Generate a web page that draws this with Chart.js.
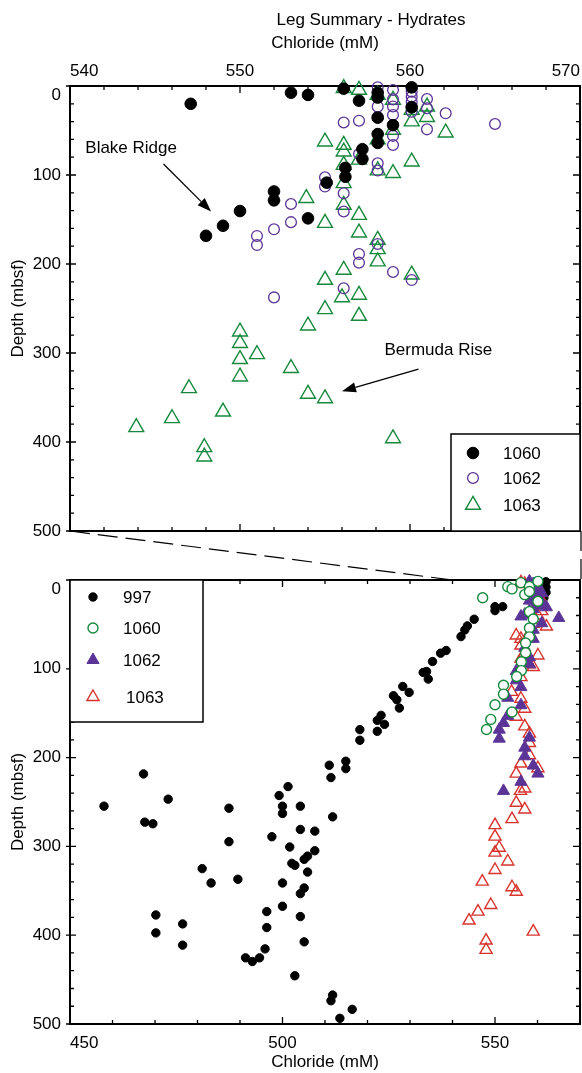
<!DOCTYPE html>
<html>
<head>
<meta charset="utf-8">
<script src="https://cdn.jsdelivr.net/npm/chart.js@4.4.1/dist/chart.umd.min.js"></script>
<style>
    html, body { margin: 0; padding: 0; background: #fff; }
    #wrap { position: relative; width: 582px; height: 1073px; }
    canvas { position: absolute; left: 0; }
    #topCv { top: 0; }
    #botCv { top: 556px; }
    #lines { top: 0; pointer-events: none; }
</style>
</head>
<body>
<div id="wrap">
    <canvas id="topCv" width="582" height="556"></canvas>
    <canvas id="botCv" width="582" height="517"></canvas>
    <canvas id="lines" width="582" height="1073"></canvas>
</div>
<script>
// [chloride mM, depth mbsf]
const site997 = [
    [458, 254.7], [467.3, 218.4], [467.6, 272.7], [469.5, 274.5], [473.1, 246.8], [470.2, 377.2],
    [470.2, 397.4], [476.5, 387.3], [476.5, 411.2], [481.1, 325], [483.2, 341.2], [487.4, 257],
    [487.4, 294.7], [489.5, 337], [491.3, 425.5], [492.9, 429.6], [494.6, 425.5], [495.9, 415.4],
    [496.3, 391.4], [496.3, 373.4], [497.5, 289.1], [499.2, 242.7], [500, 254.7], [500, 262.9],
    [501.3, 232.6], [500, 341.2], [500, 367.4], [501.7, 300.7], [502.2, 319.1], [502.9, 321.3],
    [502.9, 445.7], [504.2, 254.7], [504.2, 280.9], [505.1, 314.6], [505.9, 310.9], [505.9, 328.9],
    [505.1, 346.8], [504.2, 353.2], [504.2, 379], [505.1, 407.5], [507.6, 282.8], [507.6, 304.9],
    [511, 208.6], [511.4, 222.5], [511.8, 266.7], [514.9, 204.1], [514.9, 212.4], [511.8, 467.4],
    [511.4, 473.8], [516.4, 483.5], [513.5, 493.6], [518.2, 168.5], [518.2, 180.5], [522.3, 170.4],
    [522.3, 158.1], [523.2, 152.4], [524, 162.6], [526.1, 130.3], [526.9, 134.8], [527.5, 144.2],
    [528.3, 119.9], [529.8, 126.6], [533.1, 104.1], [533.9, 103], [534.3, 111.6], [535.3, 91.8],
    [537.2, 82.4], [538.5, 79.4], [542, 63.7], [542.9, 56.2], [543.5, 51.7], [545.1, 44.2],
    [550, 30], [551.8, 30], [550, 34.5], [562, 2], [562, 8], [562, 14], [561.5, 20], [561, 26]
];

const site1060 = [
    [547.1, 20], [553, 7.5], [554, 10], [556.1, 3], [557, 16.5], [558.1, 7.5], [558.1, 13],
    [560.1, 1.5], [560.1, 24], [558.1, 35.6], [559, 44], [558.1, 54], [558.1, 64], [557.2, 71],
    [557.2, 82], [556.2, 92], [556.2, 102], [555.1, 108.6], [552, 118.5], [552, 128.5],
    [550, 140.5], [554, 148.7], [549, 157], [548, 168.3]
];

const site1062 = [
    [558.1, 1.5], [559, 4.5], [560.1, 6.4], [560.1, 12], [560.1, 17.6], [560.1, 23.3], [560.1, 28.9],
    [561, 14.6], [561, 25], [561, 48.7], [562.1, 30.7], [565, 42.7], [559, 15], [559, 23],
    [559, 32.6], [559, 56], [559, 66.3], [558.1, 23.2], [558.1, 35], [557, 39], [556.1, 41],
    [557, 76.4], [558.1, 86.9], [558.1, 95], [555, 102.6], [555, 113], [556.1, 120.6], [556.1, 141],
    [558.1, 177.5], [557, 188.8], [557, 198.5], [559, 209], [560.1, 218], [556.1, 227.3],
    [553, 132.6], [552, 161], [551, 168.5], [551, 178.7], [553, 153], [552, 237.5]
];

const site1063 = [
    [556.1, 2.6], [557, 4.5], [558.1, 10], [559, 15.7], [560.1, 27], [561, 23.2], [561, 35],
    [560.1, 40], [562.1, 52.4], [559, 49.4], [555, 62.5], [556.1, 66.3], [556.1, 73.8], [558.1, 60],
    [556.1, 88.8], [557, 83], [558.1, 95], [559, 98], [560.1, 85], [556.1, 109.4], [553.9, 126],
    [555, 154], [556.1, 133.7], [557, 145], [557, 164.8], [558.1, 173], [558.1, 183.5],
    [558.1, 197.3], [556.1, 206.7], [555, 218], [560.1, 212], [556, 237.5], [557, 234.8],
    [555, 250.9], [557, 258.4], [554, 269.3], [554, 346], [555, 351], [559, 396], [550, 276],
    [550, 289], [550, 307], [551, 301.5], [550, 326.6], [553, 317], [547, 339.7], [549, 366],
    [546, 373.4], [543.9, 383.5], [547.9, 406], [547.9, 416.5]
];

const topRange = [540, 570];
const botRange = [450, 570];
const depthRange = [0, 500];

// annotation text and arrows, in data units (chloride, depth)
const notes = [
    { text: 'Blake Ridge', at: [540.9, 70], from: [545.5, 87.6], to: [548.3, 141] },
    { text: 'Bermuda Rise', at: [558.5, 296.6], from: [560.5, 318], to: [556.0, 343] }
];

const PURPLE = '#5b3497';
const GREEN = '#16893c';
const RED = '#d8332c';
const FONT = '17px "Liberation Sans", Arial, sans-serif';

Chart.defaults.font.family = '"Liberation Sans", Arial, Helvetica, sans-serif';
Chart.defaults.font.size = 17;
Chart.defaults.color = '#000';

const toPoints = arr => arr.map(([x, y]) => ({ x, y }));

function drawSymbol(ctx, ds, x, y) {
    const r = ds.pointRadius;
    ctx.save();
    ctx.lineWidth = ds.borderWidth;
    ctx.strokeStyle = ds.borderColor;
    ctx.fillStyle = ds.backgroundColor;
    ctx.beginPath();
    if (ds.pointStyle === 'triangle') {
        ctx.moveTo(x, y - r);
        ctx.lineTo(x + 0.866 * r, y + 0.5 * r);
        ctx.lineTo(x - 0.866 * r, y + 0.5 * r);
        ctx.closePath();
    } else {
        ctx.arc(x, y, r, 0, Math.PI * 2);
    }
    ctx.fill();
    ctx.stroke();
    ctx.restore();
}

// box with mirrored ticks on all four sides
const framePlugin = {
    id: 'frame',
    beforeDatasetsDraw(chart) {
        const { ctx, chartArea: a, scales: { x, y } } = chart;
        ctx.save();
        ctx.strokeStyle = '#000';
        ctx.lineWidth = 1.3;
        ctx.beginPath();
        x.ticks.forEach(t => {
            const px = x.getPixelForValue(t.value);
            const len = t.label !== '' ? 7 : 4;
            ctx.moveTo(px, a.top); ctx.lineTo(px, a.top + len);
            ctx.moveTo(px, a.bottom); ctx.lineTo(px, a.bottom - len);
        });
        y.ticks.forEach(t => {
            const py = y.getPixelForValue(t.value);
            const major = t.value % 100 === 0;
            ctx.moveTo(a.left - (major ? 4 : 0), py); ctx.lineTo(a.left + (major ? 6 : 4), py);
            ctx.moveTo(a.right, py); ctx.lineTo(a.right - (major ? 7 : 4), py);
        });
        ctx.stroke();
        ctx.lineWidth = 2;
        ctx.strokeRect(a.left, a.top, a.width, a.height);
        // the zero depth label sits a little below its tick in the original
        ctx.fillStyle = '#000';
        ctx.font = FONT;
        ctx.textAlign = 'right';
        ctx.textBaseline = 'middle';
        ctx.fillText('0', a.left - 9, y.getPixelForValue(0) + 9);
        ctx.restore();
    }
};

// legend box drawn inside the plot
const boxLegend = {
    id: 'boxLegend',
    afterDatasetsDraw(chart, args, opts) {
        const { ctx, chartArea: a } = chart;
        const left = opts.corner === 'br' ? a.right - opts.w : a.left;
        const top = opts.corner === 'br' ? a.bottom - opts.h : a.top;
        ctx.save();
        ctx.fillStyle = '#fff';
        ctx.fillRect(left, top, opts.w, opts.h);
        ctx.strokeStyle = '#000';
        ctx.lineWidth = 1.5;
        ctx.strokeRect(left, top, opts.w, opts.h);
        opts.rows.forEach(row => {
            const ds = chart.data.datasets[row.index];
            const cy = top + row.dy;
            drawSymbol(ctx, ds, left + opts.symX, cy);
            ctx.fillStyle = '#000';
            ctx.font = FONT;
            ctx.textBaseline = 'middle';
            ctx.textAlign = 'left';
            ctx.fillText(ds.label, left + opts.textX + (row.tx || 0), cy + 1);
        });
        ctx.restore();
    }
};

const notesPlugin = {
    id: 'notes',
    afterDatasetsDraw(chart) {
        const { ctx, scales: { x, y } } = chart;
        ctx.save();
        ctx.fillStyle = '#000';
        ctx.strokeStyle = '#000';
        ctx.lineWidth = 1.3;
        ctx.font = FONT;
        ctx.textBaseline = 'middle';
        notes.forEach(n => {
            ctx.fillText(n.text, x.getPixelForValue(n.at[0]), y.getPixelForValue(n.at[1]));
            const x1 = x.getPixelForValue(n.from[0]), y1 = y.getPixelForValue(n.from[1]);
            const x2 = x.getPixelForValue(n.to[0]), y2 = y.getPixelForValue(n.to[1]);
            const ang = Math.atan2(y2 - y1, x2 - x1);
            const hl = 14, hw = 5;
            const bx = x2 - hl * Math.cos(ang), by = y2 - hl * Math.sin(ang);
            ctx.beginPath();
            ctx.moveTo(x1, y1); ctx.lineTo(bx, by);
            ctx.stroke();
            ctx.beginPath();
            ctx.moveTo(x2, y2);
            ctx.lineTo(bx + hw * Math.sin(ang), by - hw * Math.cos(ang));
            ctx.lineTo(bx - hw * Math.sin(ang), by + hw * Math.cos(ang));
            ctx.closePath();
            ctx.fill();
        });
        ctx.restore();
    }
};

const mainTitle = {
    id: 'mainTitle',
    afterDraw(chart) {
        const { ctx, chartArea: a } = chart;
        ctx.save();
        ctx.fillStyle = '#000';
        ctx.font = FONT;
        ctx.textAlign = 'center';
        ctx.textBaseline = 'middle';
        ctx.fillText('Leg Summary - Hydrates', (a.left + a.right) / 2 + 46, 20);
        ctx.restore();
    }
};

function depthAxis(width) {
    return {
        type: 'linear',
        reverse: true,
        min: depthRange[0],
        max: depthRange[1],
        grid: { display: false, drawTicks: true, tickLength: 9 },
        border: { display: false },
        ticks: {
            stepSize: 20,
            autoSkip: false,
            padding: 0,
            callback: v => (v % 100 === 0 && v !== 0 ? String(v) : '')
        },
        title: { display: true, text: 'Depth (mbsf)', padding: { top: 8, bottom: 0 } },
        afterFit: s => { s.width = width; }
    };
}

function chlorideAxis(range, step, major, position, height, tickGap, titlePad) {
    return {
        type: 'linear',
        position: position,
        min: range[0],
        max: range[1],
        grid: { display: false, drawTicks: true, tickLength: tickGap },
        border: { display: false },
        ticks: {
            stepSize: step,
            autoSkip: false,
            maxRotation: 0,
            align: 'inner',
            padding: 0,
            callback: v => {
                if (position === 'top') return v % major === 0 ? String(v) : '';
                return v % major === 0 && v !== range[1] ? String(v) : '';
            }
        },
        title: { display: true, text: 'Chloride (mM)', padding: titlePad },
        afterFit: s => { s.height = height; }
    };
}

const common = {
    responsive: false,
    animation: false,
    devicePixelRatio: 1,
    events: []
};

const topChart = new Chart(document.getElementById('topCv'), {
    type: 'scatter',
    data: {
        datasets: [
            { label: '1060', data: toPoints(site1060), pointStyle: 'circle', pointRadius: 5.8,
              backgroundColor: '#000', borderColor: '#000', borderWidth: 1, order: 1, clip: false },
            { label: '1062', data: toPoints(site1062), pointStyle: 'circle', pointRadius: 5.4,
              backgroundColor: 'rgba(255,255,255,0)', borderColor: PURPLE, borderWidth: 1.3, order: 2, clip: false },
            { label: '1063', data: toPoints(site1063), pointStyle: 'triangle', pointRadius: 8.6,
              backgroundColor: 'rgba(255,255,255,0)', borderColor: GREEN, borderWidth: 1.4, order: 3, clip: false }
        ]
    },
    options: {
        ...common,
        layout: { autoPadding: false, padding: { left: 0, right: 2, top: 0, bottom: 25 } },
        scales: {
            x: chlorideAxis(topRange, 2, 10, 'top', 86, 4, { top: 33, bottom: 0 }),
            y: depthAxis(70)
        },
        plugins: {
            legend: { display: false },
            tooltip: { enabled: false },
            boxLegend: {
                corner: 'br', w: 129, h: 97, symX: 22, textX: 52,
                rows: [{ index: 0, dy: 19 }, { index: 1, dy: 44 }, { index: 2, dy: 71 }]
            }
        }
    },
    plugins: [framePlugin, boxLegend, notesPlugin, mainTitle]
});

const botChart = new Chart(document.getElementById('botCv'), {
    type: 'scatter',
    data: {
        datasets: [
            { label: '997', data: toPoints(site997), pointStyle: 'circle', pointRadius: 4.2,
              backgroundColor: '#000', borderColor: '#000', borderWidth: 1, order: 4, clip: false },
            { label: '1060', data: toPoints(site1060), pointStyle: 'circle', pointRadius: 5,
              backgroundColor: '#fff', borderColor: GREEN, borderWidth: 1.4, order: 1, clip: false },
            { label: '1062', data: toPoints(site1062), pointStyle: 'triangle', pointRadius: 7,
              backgroundColor: PURPLE, borderColor: PURPLE, borderWidth: 1, order: 2, clip: false },
            { label: '1063', data: toPoints(site1063), pointStyle: 'triangle', pointRadius: 7,
              backgroundColor: 'rgba(255,255,255,0)', borderColor: RED, borderWidth: 1.4, order: 3, clip: false }
        ]
    },
    options: {
        ...common,
        layout: { autoPadding: false, padding: { left: 0, right: 2, top: 24, bottom: 0 } },
        scales: {
            x: chlorideAxis(botRange, 10, 50, 'bottom', 49, 9, { top: 0, bottom: 0 }),
            y: depthAxis(70)
        },
        plugins: {
            legend: { display: false },
            tooltip: { enabled: false },
            boxLegend: {
                corner: 'tl', w: 133, h: 142, symX: 23, textX: 53,
                rows: [{ index: 0, dy: 17 }, { index: 1, dy: 48 }, { index: 2, dy: 80 }, { index: 3, dy: 117, tx: 3 }]
            }
        }
    },
    plugins: [framePlugin, boxLegend]
});

// dashed connectors from the upper panel to the zoomed window in the lower one
(function drawConnectors() {
    const ctx = document.getElementById('lines').getContext('2d');
    const offset = 556;
    const tx = topChart.scales.x, ty = topChart.scales.y;
    const bx = botChart.scales.x, by = botChart.scales.y;
    const y1 = ty.getPixelForValue(depthRange[1]);
    const y2 = offset + by.getPixelForValue(depthRange[0]);
    ctx.strokeStyle = '#000';
    ctx.lineWidth = 1.2;
    ctx.setLineDash([20, 8]);
    ctx.beginPath();
    ctx.moveTo(tx.getPixelForValue(topRange[0]), y1);
    ctx.lineTo(bx.getPixelForValue(topRange[0]), y2);
    ctx.moveTo(tx.getPixelForValue(topRange[1]) + 1, y1);
    ctx.lineTo(bx.getPixelForValue(topRange[1]) + 1, y2);
    ctx.stroke();
})();
</script>
</body>
</html>
